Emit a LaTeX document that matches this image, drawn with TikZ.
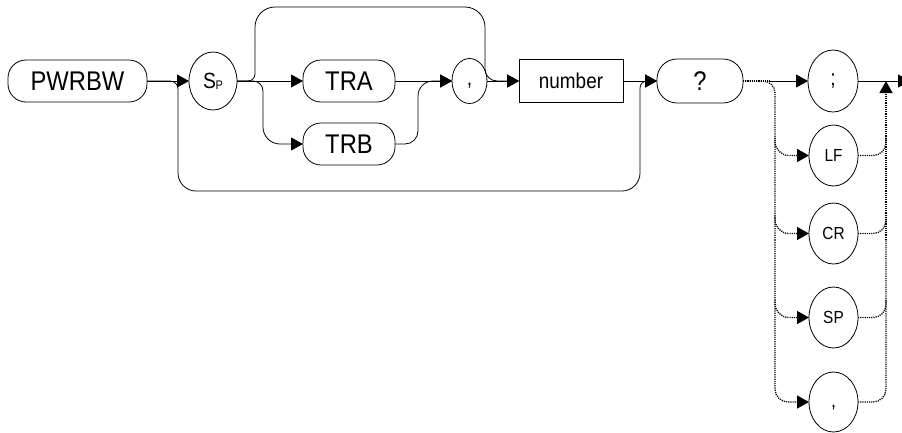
\documentclass[tikz,border=0pt]{standalone}
\usepackage{fontspec}
\setmainfont[FakeStretch=0.88]{Liberation Sans}
\usetikzlibrary{arrows.meta,shapes.geometric}
\begin{document}
\begin{tikzpicture}[x=1pt,y=-1pt,
  line width=0.8pt,
  box/.style={draw, inner sep=0pt, outer sep=0pt, line width=0.8pt},
  pill/.style={box, rounded corners=18pt, minimum height=42pt},
  oval/.style={box, ellipse},
  arr/.style={-{Triangle[length=12pt,width=13pt]}},
  dots/.style={dash pattern=on 1.2pt off 1pt, line width=1.3pt},
  big/.style={font=\fontsize{27}{27}\selectfont},
  mid/.style={font=\fontsize{21.5}{21.5}\selectfont},
  small/.style={font=\fontsize{17.5}{17.5}\selectfont}
]
\useasboundingbox (0,0) rectangle (902,432);

% nodes
\node[pill,big,minimum width=139pt] (pwrbw) at (77.5,81) {PWRBW};
\node[oval,minimum width=48pt,minimum height=58pt] (sp) at (213,81)
  {\fontsize{22}{22}\selectfont S\kern-0.5pt\raisebox{-1pt}{\fontsize{12.5}{12.5}\selectfont P}};
\node[pill,big,minimum width=92pt] (tra) at (349,81) {TRA};
\node[pill,big,minimum width=92pt] (trb) at (349,144) {TRB};
\node[oval,minimum width=35pt,minimum height=45pt] (c1) at (469.5,81)
  {\fontsize{22}{22}\selectfont\raisebox{-4.5pt}[0pt][0pt]{,}};
\node[box,mid,minimum width=104pt,minimum height=43pt] (number) at (571,81) {number};
\node[pill,big,rounded corners=20pt,minimum width=86pt,minimum height=44pt] (q) at (700,81) {?};
\node[oval,minimum width=50pt,minimum height=62pt,font=\fontsize{22}{22}\selectfont] (semi) at (833,81) {;};
\node[oval,small,minimum width=49pt,minimum height=61pt] (lf) at (833.5,155.5) {LF};
\node[oval,small,minimum width=49pt,minimum height=61pt] (cr) at (833.5,233.5) {CR};
\node[oval,small,minimum width=49pt,minimum height=61pt] (sp2) at (833.5,317.5) {SP};
\node[oval,minimum width=49pt,minimum height=60pt] (c2) at (833.5,402)
  {\fontsize{20}{20}\selectfont\raisebox{-5.5pt}[0pt][0pt]{,}};

% junction coordinates
\coordinate (jA) at (178,130);
\coordinate (jB) at (400,191);
\coordinate (jC) at (640,130);
\coordinate (tA) at (255,45);
\coordinate (tB) at (370,7);
\coordinate (tC) at (485,45);
\coordinate (rA) at (263,112);
\coordinate (rB) at (418,112);
\coordinate (dJ) at (770,81);
\coordinate (lv) at (775,240);
\coordinate (rv) at (886,240);
\coordinate (exit) at (910,81);

% main line
\draw[arr] (pwrbw.east) -- (sp.west);
\draw[arr] (sp.east) -- (tra.west);
\draw[arr] (tra.east) -- (c1.west);
\draw[arr] (c1.east) -- (number.west);
\draw[arr] (number.east) -- (q.west);

% bottom bypass
\draw[rounded corners=8pt] (pwrbw.east) -| (jA);
\draw[rounded corners=18pt] (jA) |- (jB);
\draw[rounded corners=18pt] (jB) -| (jC);
\draw[rounded corners=7pt,arr] (jC) |- (q.west);

% top bypass
\draw[rounded corners=7pt] (sp.east) -| (tA);
\draw[rounded corners=20pt] (tA) |- (tB);
\draw[rounded corners=20pt] (tB) -| (tC);
\draw[rounded corners=12pt,arr] (tC) |- (number.west);

% TRB branch
\draw[rounded corners=10pt] (sp.east) -| (rA);
\draw[rounded corners=17pt,arr] (rA) |- (trb.west);
\draw[rounded corners=13pt] (trb.east) -| (rB);
\draw[rounded corners=15pt,arr] (rB) |- (c1.west);

% terminators
\draw[dots] (q.east) -- (dJ);
\draw[arr] (dJ) -- (semi.west);
\draw[arr] (semi.east) -- (exit);

% left dotted rail
\draw[dots,rounded corners=12pt] (q.east) -| (lv);
\draw[dots,rounded corners=13pt,arr] (lv) |- (c2.west);
\draw[dots,rounded corners=14pt,arr] ([yshift=18pt]lf.west -| lv) |- (lf.west);
\draw[dots,rounded corners=14pt,arr] ([yshift=18pt]cr.west -| lv) |- (cr.west);
\draw[dots,rounded corners=14pt,arr] ([yshift=18pt]sp2.west -| lv) |- (sp2.west);

% right dotted rail
\draw[dots,rounded corners=13pt] (c2.east) -| (rv);
\draw[dots,arr] (rv) -- (rv |- semi.east);
\draw[dots,rounded corners=13pt] (lf.east) -| ([yshift=18pt]lf.east -| rv);
\draw[dots,rounded corners=13pt] (cr.east) -| ([yshift=18pt]cr.east -| rv);
\draw[dots,rounded corners=13pt] (sp2.east) -| ([yshift=18pt]sp2.east -| rv);
\end{tikzpicture}
\end{document}
